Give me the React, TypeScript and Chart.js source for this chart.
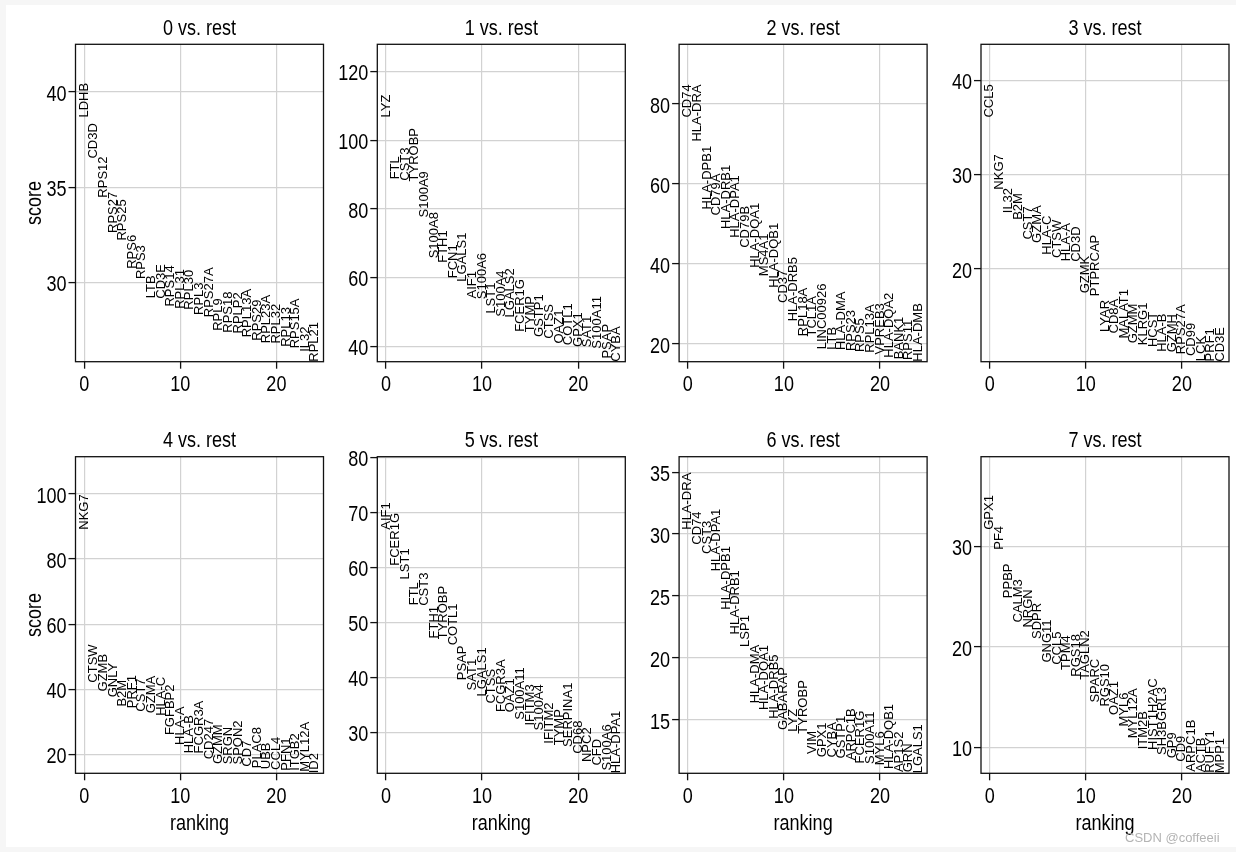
import React, { useEffect, useRef } from "react";
import { Chart, registerables } from "chart.js";

Chart.register(...registerables);

// ---------------- data ----------------
const panelTitles = ["0 vs. rest", "1 vs. rest", "2 vs. rest", "3 vs. rest", "4 vs. rest", "5 vs. rest", "6 vs. rest", "7 vs. rest"];

const genes0 = ["LDHB", "CD3D", "RPS12", "RPS27", "RPS25", "RPS6", "RPS3", "LTB", "CD3E", "RPS14", "RPL31", "RPL30", "RPL3", "RPS27A", "RPL9", "RPS18", "RPLP2", "RPL13A", "RPS29", "RPL23A", "RPL32", "RPL13", "RPS15A", "IL32", "RPL21"];
const scores0 = [38.65, 36.5, 34.45, 32.6, 32.2, 30.72, 30.18, 29.18, 29.15, 28.74, 28.62, 28.58, 28.3, 28.18, 27.47, 27.37, 27.33, 27.13, 26.95, 26.82, 26.8, 26.63, 26.55, 26.37, 25.85];

const genes1 = ["LYZ", "FTL", "CST3", "TYROBP", "S100A9", "S100A8", "FTH1", "FCN1", "LGALS1", "AIF1", "S100A6", "LST1", "S100A4", "LGALS2", "FCER1G", "TYMP", "GSTP1", "CTSS", "OAZ1", "COTL1", "GPX1", "SAT1", "S100A11", "PSAP", "CYBA"];
const scores1 = [106.6, 88.6, 88.2, 88.0, 77.5, 65.6, 64.3, 59.8, 58.8, 53.9, 53.7, 49.5, 48.6, 48.4, 44.2, 44.1, 42.7, 42.2, 40.8, 40.3, 39.8, 39.7, 39.3, 36.4, 35.5];

const genes2 = ["CD74", "HLA-DRA", "HLA-DPB1", "CD79A", "HLA-DRB1", "HLA-DPA1", "CD79B", "HLA-DQA1", "MS4A1", "HLA-DQB1", "CD37", "HLA-DRB5", "RPL18A", "TCL1A", "LINC00926", "LTB", "HLA-DMA", "RPS23", "RPS5", "RPL13A", "VPREB3", "HLA-DQA2", "BANK1", "RPS11", "HLA-DMB"];
const scores2 = [76.6, 70.6, 53.6, 52.1, 48.7, 46.5, 44.0, 39.0, 36.9, 34.0, 30.2, 25.6, 21.9, 21.8, 18.6, 18.5, 18.4, 18.15, 17.9, 17.75, 17.3, 16.5, 16.1, 15.9, 15.5];

const genes3 = ["CCL5", "NKG7", "IL32", "B2M", "CST7", "GZMA", "HLA-C", "CTSW", "HLA-A", "CD3D", "GZMK", "PTPRCAP", "LYAR", "CD8A", "MALAT1", "GZMM", "KLRG1", "HCST", "HLA-B", "GZMH", "RPS27A", "CD99", "LCK", "PRF1", "CD3E"];
const scores3 = [36.05, 28.4, 25.9, 25.2, 23.1, 22.75, 21.5, 21.15, 20.8, 20.75, 17.4, 17.1, 13.3, 13.15, 12.6, 12.1, 11.9, 11.7, 11.2, 11.15, 10.95, 10.75, 10.2, 10.18, 10.15];

const genes4 = ["NKG7", "CTSW", "GZMB", "GNLY", "B2M", "PRF1", "CST7", "GZMA", "HLA-C", "FGFBP2", "HLA-A", "HLA-B", "FCGR3A", "CD247", "GZMM", "SRGN", "SPON2", "CD7", "PLAC8", "UBB", "CCL4", "PFN1", "ITGB2", "MYL12A", "ID2"];
const scores4 = [89.0, 42.0, 39.3, 37.5, 34.65, 34.15, 33.1, 32.6, 31.8, 25.9, 22.85, 20.3, 20.25, 18.45, 17.0, 16.9, 16.85, 16.2, 15.7, 15.4, 15.2, 14.95, 14.9, 14.65, 14.15];

const genes5 = ["AIF1", "FCER1G", "LST1", "FTL", "CST3", "FTH1", "TYROBP", "COTL1", "PSAP", "SAT1", "LGALS1", "CTSS", "FCGR3A", "OAZ1", "S100A11", "IFITM3", "S100A4", "IFITM2", "TYMP", "SERPINA1", "CD68", "NPC2", "CFD", "S100A6", "HLA-DPA1"];
const scores5 = [66.85, 60.3, 57.8, 53.1, 53.0, 47.05, 46.9, 45.8, 39.45, 37.6, 36.5, 35.2, 33.65, 33.6, 32.25, 31.2, 30.3, 27.9, 27.6, 27.3, 26.05, 24.55, 23.9, 23.0, 22.5];

const genes6 = ["HLA-DRA", "CD74", "CST3", "HLA-DPA1", "HLA-DPB1", "HLA-DRB1", "LSP1", "HLA-DMA", "HLA-DQA1", "HLA-DRB5", "GABARAP", "LYZ", "TYROBP", "VIM", "GPX1", "CYBA", "GSTP1", "ARPC1B", "FCER1G", "S100A11", "MYL6", "HLA-DQB1", "AP1S2", "GRN", "LGALS1"];
const scores6 = [30.35, 29.15, 28.4, 27.0, 23.9, 21.9, 20.9, 16.35, 15.8, 15.1, 14.2, 14.05, 13.9, 12.25, 12.0, 11.98, 11.9, 11.75, 11.5, 11.45, 11.35, 11.05, 10.8, 10.78, 10.7];

const genes7 = ["GPX1", "PF4", "PPBP", "CALM3", "NRGN", "SDPR", "GNG11", "CCL5", "TPM4", "RGS18", "TAGLN2", "SPARC", "RGS10", "OAZ1", "MYL6", "MYL12A", "ITM2B", "HIST1H2AC", "SH3BGRL3", "GP9", "CD9", "ARPC1B", "ACTB", "RUFY1", "MPP1"];
const scores7 = [31.66, 29.67, 24.86, 22.44, 21.94, 20.8, 18.46, 18.23, 17.73, 17.06, 16.74, 14.48, 14.08, 13.25, 12.1, 10.93, 9.84, 9.77, 9.27, 8.94, 8.6, 7.61, 7.55, 7.5, 7.45];

const xTicks = [0, 10, 20];
const yTicks0 = [30, 35, 40];
const yTicks1 = [40, 60, 80, 100, 120];
const yTicks2 = [20, 40, 60, 80];
const yTicks3 = [20, 30, 40];
const yTicks4 = [20, 40, 60, 80, 100];
const yTicks5 = [30, 40, 50, 60, 70, 80];
const yTicks6 = [15, 20, 25, 30, 35];
const yTicks7 = [10, 20, 30];

const allGenes = [genes0, genes1, genes2, genes3, genes4, genes5, genes6, genes7];
const allScores = [scores0, scores1, scores2, scores3, scores4, scores5, scores6, scores7];
const allYTicks = [yTicks0, yTicks1, yTicks2, yTicks3, yTicks4, yTicks5, yTicks6, yTicks7];

// ---------------- layout / style ----------------
const SANS = '"Liberation Sans", Arial, Helvetica, sans-serif';
const NARROW_SCALE = 0.82; // Arial Narrow ~ 82% of Arial width
const GRID = "#d2d2d2";
const PLOT_LEFT = [75.5, 377.3, 679.1, 981];
const PLOT_W = 248;
const ROWS = [
  { canvasTop: 0, plotTop: 44.3, plotH: 317.4, H: 420 },
  { canvasTop: 412, plotTop: 456.7, plotH: 316.6, H: 440 },
];

function narrowText(ctx: CanvasRenderingContext2D, text: string, x: number, y: number, align: CanvasTextAlign, rot = 0) {
  ctx.save();
  ctx.translate(x, y);
  if (rot) ctx.rotate(rot);
  ctx.scale(NARROW_SCALE, 1);
  ctx.textAlign = align;
  ctx.textBaseline = "alphabetic";
  ctx.fillText(text, 0, 0);
  ctx.restore();
}

const panelPlugin = {
  id: "panelDeco",
  afterDraw(chart: any, _args: any, opts: any) {
    const { ctx, chartArea: a } = chart;
    ctx.save();
    // frame
    ctx.strokeStyle = "#111";
    ctx.lineWidth = 1.3;
    ctx.strokeRect(a.left, a.top, a.right - a.left, a.bottom - a.top);
    // title, axis labels, tick labels (narrow sans)
    ctx.fillStyle = "#000";
    ctx.font = `22px ${SANS}`;
    const cx = (a.left + a.right) / 2;
    narrowText(ctx, opts.title, cx, a.top - 9.5, "center");
    if (opts.xLabel) narrowText(ctx, "ranking", cx, a.bottom + 56.7, "center");
    if (opts.yLabel) narrowText(ctx, "score", a.left - 35, (a.top + a.bottom) / 2, "center", -Math.PI / 2);
    const xs = chart.scales.x;
    xs.ticks.forEach((t: any) => {
      narrowText(ctx, String(t.value), xs.getPixelForValue(t.value), a.bottom + 29.3, "center");
    });
    const ys = chart.scales.y;
    ys.ticks.forEach((t: any) => {
      narrowText(ctx, String(t.value), a.left - 9, ys.getPixelForValue(t.value) + 8.8, "right");
    });
    // gene names
    const meta = chart.getDatasetMeta(0);
    const raw = chart.data.datasets[0].data;
    ctx.font = `13px ${SANS}`;
    ctx.textAlign = "left";
    ctx.textBaseline = "middle";
    meta.data.forEach((el: any, i: number) => {
      ctx.save();
      ctx.translate(el.x, el.y);
      ctx.rotate(-Math.PI / 2);
      ctx.fillText(raw[i].gene, 0, 0);
      ctx.restore();
    });
    ctx.restore();
  },
};

function Panel({ idx }: { idx: number }) {
  const ref = useRef<HTMLCanvasElement | null>(null);
  const col = idx % 4;
  const row = Math.floor(idx / 4);
  const R = ROWS[row];
  const canvasLeft = Math.round(PLOT_LEFT[col]) - 70;
  const L = PLOT_LEFT[col] - canvasLeft;
  const W = Math.ceil(L + PLOT_W + 6);
  const T = R.plotTop - R.canvasTop;
  const B = R.H - T - R.plotH;
  const rightPad = W - L - PLOT_W;

  useEffect(() => {
    const genes = allGenes[idx];
    const scores = allScores[idx];
    const yTicks = allYTicks[idx];
    const ymin = Math.min(...scores);
    const ymaxRaw = Math.max(...scores);
    const ymax = ymaxRaw + 0.3 * (ymaxRaw - ymin);
    const gridOpts = { color: GRID, lineWidth: 1.2, tickColor: "#111", tickWidth: 1.3, tickLength: 7, drawTicks: true };
    const chart = new Chart(ref.current as HTMLCanvasElement, {
      type: "scatter",
      data: {
        datasets: [
          {
            data: scores.map((s, i) => ({ x: i, y: s, gene: genes[i] })) as any,
            pointRadius: 0,
            pointHoverRadius: 0,
            showLine: false,
          },
        ],
      },
      options: {
        animation: false,
        responsive: false,
        events: [],
        layout: { padding: { top: T, left: 0, right: rightPad, bottom: 0 } },
        plugins: {
          legend: { display: false },
          tooltip: { enabled: false },
          title: { display: false },
          panelDeco: { title: panelTitles[idx], xLabel: row === 1, yLabel: col === 0 },
        } as any,
        scales: {
          x: {
            type: "linear",
            min: -0.9,
            max: 24.9,
            afterBuildTicks: (s: any) => {
              s.ticks = xTicks.map((v) => ({ value: v }));
            },
            afterFit: (s: any) => {
              s.height = B;
            },
            grid: gridOpts,
            border: { display: false },
            ticks: { display: false },
          },
          y: {
            type: "linear",
            min: ymin,
            max: ymax,
            afterBuildTicks: (s: any) => {
              s.ticks = yTicks.map((v) => ({ value: v }));
            },
            afterFit: (s: any) => {
              s.width = L;
            },
            grid: gridOpts,
            border: { display: false },
            ticks: { display: false },
          },
        },
      },
      plugins: [panelPlugin],
    } as any);
    return () => chart.destroy();
  }, [idx]);

  return (
    <canvas
      ref={ref}
      width={W}
      height={R.H}
      style={{ position: "absolute", left: canvasLeft, top: R.canvasTop, width: W, height: R.H }}
    />
  );
}

export default function App() {
  return (
    <div style={{ position: "fixed", left: 0, top: 0, width: 1236, height: 852, background: "#f6f6f6", overflow: "hidden" }}>
      <div style={{ position: "absolute", left: 6, top: 5, width: 1230, height: 842, background: "#ffffff" }} />
      {[0, 1, 2, 3, 4, 5, 6, 7].map((i) => (
        <Panel key={i} idx={i} />
      ))}
      <div
        style={{
          position: "absolute",
          left: 1125,
          top: 830.5,
          font: `13px ${SANS}`,
          lineHeight: "13px",
          color: "#b4b4b4",
          whiteSpace: "nowrap",
        }}
      >
        CSDN @coffeeii
      </div>
    </div>
  );
}
